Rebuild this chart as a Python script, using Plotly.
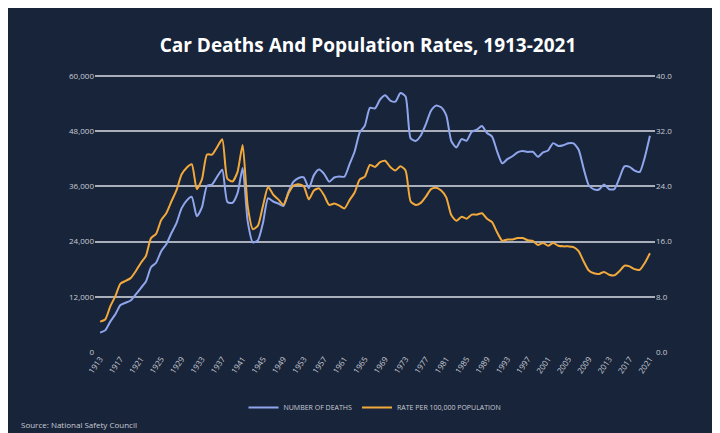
import plotly.graph_objects as go

years = list(range(1913, 2022))
deaths = [4200,4700,6600,8200,10200,10700,11200,12500,13900,15300,18400,19400,21900,23400,25800,28000,31200,32900,33700,29500,
31400,36100,36400,38100,39600,32600,32400,34500,39969,28309,23823,24282,28076,33411,32697,32259,31701,34763,36996,37794,
37955,35586,38426,39628,38702,36981,37910,38137,38091,40804,43564,47700,49163,53041,52924,54862,55791,54633,54381,56278,
55511,46402,45853,47038,49510,52411,53524,53172,51385,45779,44452,46263,45901,47865,48290,49078,47575,46814,43536,40982,
41893,42524,43363,43649,43458,43501,42401,43354,43788,45380,44757,44933,45343,45316,43945,39790,36216,35332,35303,36415,
35369,35398,37757,40327,40231,39404,39107,42339,46980]
rate = [4.4,4.7,6.6,8.1,9.9,10.3,10.7,11.7,12.9,13.9,16.5,17.1,19.1,20.1,21.8,23.4,25.7,26.7,27.2,23.6,
25.0,28.6,28.6,29.7,30.8,25.1,24.7,26.1,30.0,21.1,17.8,18.3,21.2,23.9,22.8,22.1,21.3,23.0,24.1,24.3,
24.0,22.1,23.4,23.7,22.7,21.3,21.5,21.2,20.8,22.0,23.1,25.0,25.4,27.1,26.8,27.5,27.7,26.8,26.3,26.9,
26.3,21.8,21.3,21.6,22.5,23.6,23.8,23.4,22.4,19.8,19.0,19.6,19.3,19.9,19.9,20.1,19.3,18.8,17.3,16.1,
16.3,16.3,16.5,16.5,16.2,16.1,15.5,15.8,15.4,15.8,15.4,15.3,15.3,15.2,14.6,13.1,11.8,11.4,11.3,11.6,
11.2,11.1,11.7,12.5,12.4,12.0,11.9,12.9,14.3]
tick_years = list(range(1913, 2022, 4))

fig = go.Figure()
fig.add_trace(go.Scatter(x=years, y=deaths, name="NUMBER OF DEATHS", mode="lines",
    line=dict(color="#8fa6ec", width=2, shape="spline", smoothing=0.6)))
fig.add_trace(go.Scatter(x=years, y=rate, name="RATE PER 100,000 POPULATION", mode="lines", yaxis="y2",
    line=dict(color="#f2a93b", width=2, shape="spline", smoothing=0.6)))

fig.update_layout(
    width=720, height=433,
    paper_bgcolor="#18243a", plot_bgcolor="#18243a",
    margin=dict(l=87, r=73, t=66, b=89),
    title=dict(text="<b>Car Deaths And Population Rates, 1913-2021</b>", x=0.5, xanchor="center", y=0.93,
               font=dict(family="Open Sans", size=19, color="white")),
    font=dict(family="Open Sans", color="#c8ccd4", size=9),
    xaxis=dict(range=[1912, 2022], tickvals=tick_years, tickangle=-55, showgrid=False, zeroline=False,
               tickfont=dict(size=8, color="#c8ccd4")),
    yaxis=dict(range=[0, 60400], tickvals=[0,12000,24000,36000,48000,60000], tickformat=",",
               gridcolor="#a9b0bc", gridwidth=1.5, zeroline=False, tickfont=dict(size=8)),
    yaxis2=dict(range=[0, 40.267], tickvals=[0,8,16,24,32,40], tickformat=".1f", overlaying="y", side="right",
                showgrid=False, zeroline=False, tickfont=dict(size=8)),
    legend=dict(orientation="h", x=0.5, xanchor="center", y=-0.2, yanchor="middle",
                font=dict(size=7, color="#c8ccd4"), bgcolor="rgba(0,0,0,0)"),
    showlegend=True,
    annotations=[dict(text="Source: National Safety Council", xref="paper", yref="paper",
                      x=-0.135, y=-0.26, xanchor="left", yanchor="middle", showarrow=False,
                      font=dict(size=8, color="#c8ccd4"))],
)
fig.write_html("out.html")
